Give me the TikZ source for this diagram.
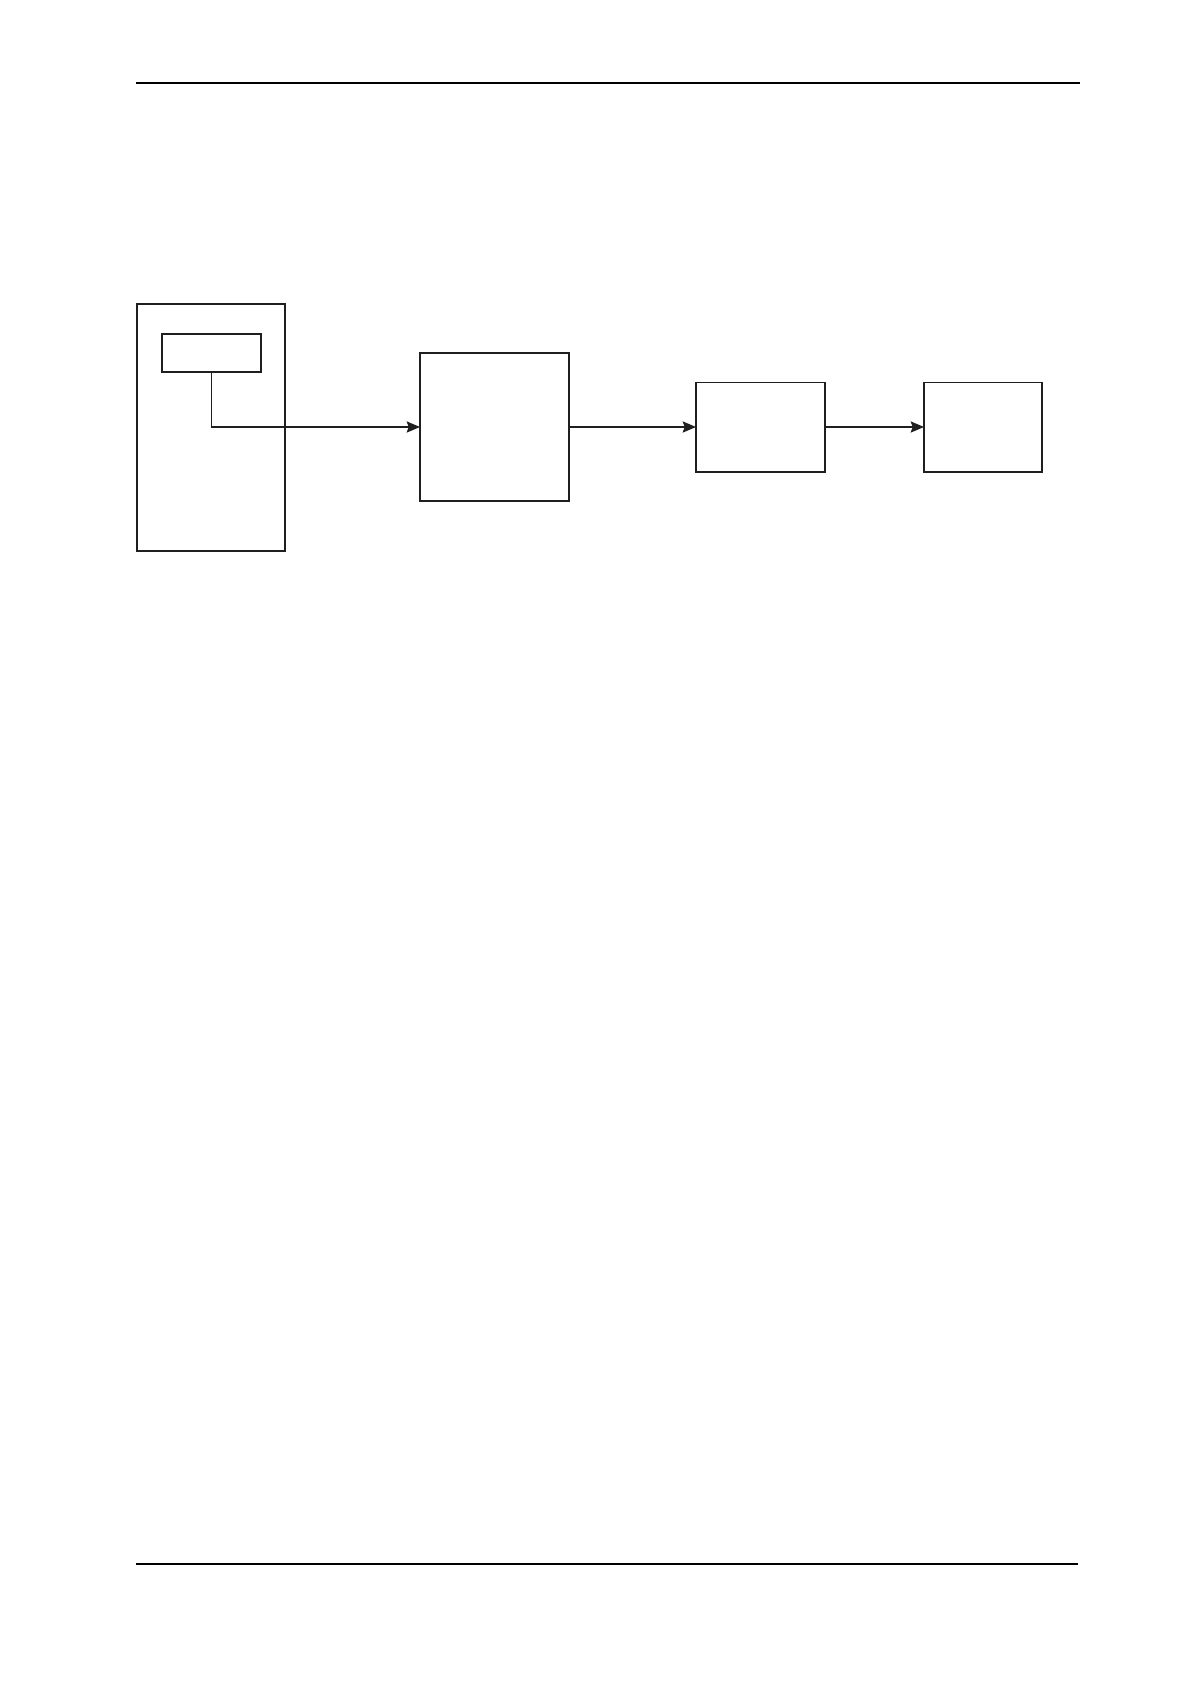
\documentclass[tikz,border=0pt]{standalone}
\usetikzlibrary{arrows.meta}
\tikzset{
    blockbox/.style={draw=black!88, line width=1.4pt, inner sep=0, outer sep=0},
    conn/.style={draw=black!88, line width=0.8pt, -{Stealth[length=9.5pt, width=8pt, inset=1.5pt]}},
    rule/.style={line width=1.5pt}
}
\begin{document}
\begin{tikzpicture}[x=0.025cm, y=-0.025cm]
    \useasboundingbox (0,0) rectangle (1191,1684);
    % page rules
    \draw[rule] (136,83) -- (1080,83);
    \draw[rule] (136,1564) -- (1078,1564);
    % blocks
    \node[blockbox, minimum width=3.7cm, minimum height=6.175cm] (device) at (211,427.5) {};
    \node[blockbox, minimum width=2.475cm, minimum height=0.95cm] (sensor) at (211.5,353) {};
    \node[blockbox, minimum width=3.725cm, minimum height=3.7cm] (proc) at (494.5,427) {};
    \node[blockbox, minimum width=3.225cm, minimum height=2.225cm] (stage) at (760.5,427) {};
    \node[blockbox, minimum width=2.95cm, minimum height=2.225cm] (out) at (983,427) {};
    % connectors
    \draw[conn] (sensor.south) |- (proc.west);
    \draw[conn] (proc.east) -- (stage.west);
    \draw[conn] (stage.east) -- (out.west);
\end{tikzpicture}
\end{document}
